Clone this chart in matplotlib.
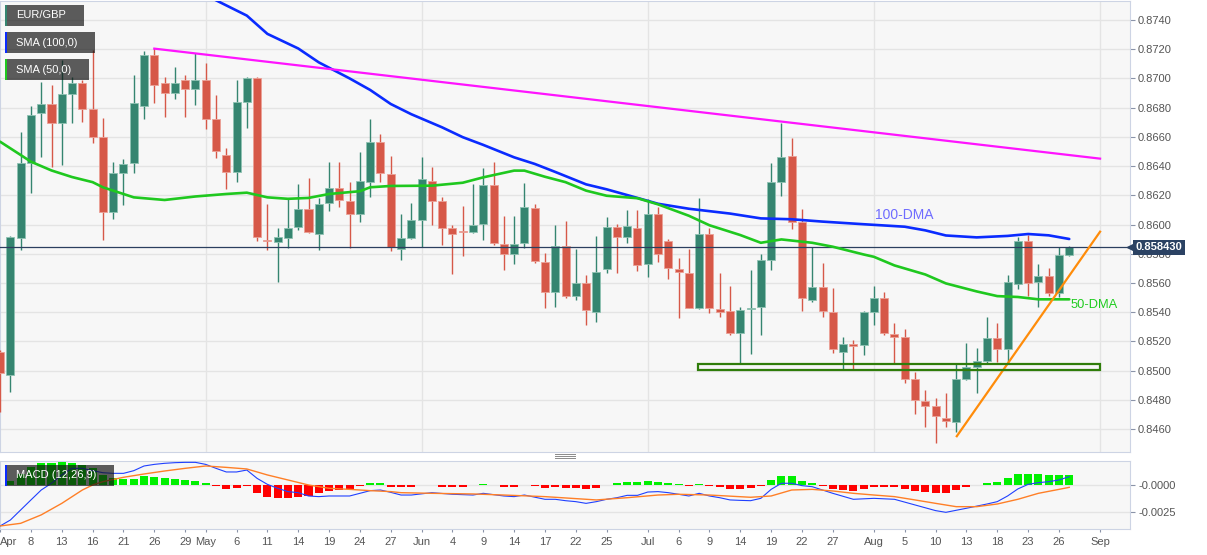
import numpy as np
import pandas as pd
import matplotlib
matplotlib.use('Agg')
import matplotlib.pyplot as plt
import matplotlib.transforms as mtrans
from matplotlib.patches import Rectangle
from matplotlib.lines import Line2D

plt.rcParams['font.family'] = ['Liberation Sans', 'DejaVu Sans']

# ---------------- data ----------------
holidays = ['2021-04-02', '2021-04-05']
all_days = [d for d in pd.bdate_range('2021-04-01', '2021-09-10')
            if d.strftime('%Y-%m-%d') not in holidays]
n_candles = 105
dates = all_days[:n_candles]

opens = [0.85129, 0.84970, 0.85905, 0.86419, 0.86762, 0.86825, 0.86697, 0.86892, 0.86971, 0.86789,
         0.86601, 0.86088, 0.86355, 0.86419, 0.86812, 0.87161, 0.86971, 0.86903, 0.86990, 0.86926,
         0.86990, 0.86723, 0.86476, 0.86362, 0.86842, 0.87006, 0.85896, 0.85882, 0.85905, 0.85985,
         0.86104, 0.85935, 0.86149, 0.86252, 0.86161, 0.86072, 0.86289, 0.86563, 0.86346, 0.85832,
         0.85910, 0.86031, 0.86300, 0.86163, 0.85974, 0.85958, 0.85951, 0.86003, 0.86271, 0.85866,
         0.85798, 0.85875, 0.86115, 0.85745, 0.85536, 0.85853, 0.85512, 0.85597, 0.85403, 0.85695,
         0.85985, 0.85912, 0.85978, 0.85729, 0.86072, 0.85889, 0.85693, 0.85670, 0.85426, 0.85935,
         0.85421, 0.85410, 0.85259, 0.85421, 0.85433, 0.85757, 0.86293, 0.86469, 0.86019, 0.85483,
         0.85574, 0.85403, 0.85130, 0.85179, 0.85175, 0.85399, 0.85494, 0.85250, 0.85227, 0.84942,
         0.84793, 0.84757, 0.84679, 0.84649, 0.84940, 0.85026, 0.85065, 0.85220, 0.85150, 0.85592,
         0.85889, 0.85608, 0.85647, 0.85533, 0.85791]
highs = [0.85140, 0.85920, 0.86636, 0.86812, 0.86978, 0.86956, 0.87127, 0.87013, 0.86990, 0.87195,
         0.86727, 0.86430, 0.86447, 0.87024, 0.87188, 0.87207, 0.87013, 0.87081, 0.87024, 0.87173,
         0.87108, 0.86887, 0.86522, 0.86990, 0.87010, 0.87010, 0.86140, 0.85974, 0.86173, 0.86277,
         0.86320, 0.86180, 0.86430, 0.86430, 0.86293, 0.86499, 0.86721, 0.86618, 0.86469, 0.86070,
         0.86145, 0.86460, 0.86392, 0.86190, 0.86000, 0.86129, 0.86275, 0.86385, 0.86426, 0.86058,
         0.86058, 0.86286, 0.86138, 0.85803, 0.86000, 0.86024, 0.85830, 0.85654, 0.85921, 0.86049,
         0.86003, 0.86099, 0.86099, 0.86173, 0.86118, 0.85899, 0.85768, 0.85830, 0.86184, 0.85974,
         0.85666, 0.85579, 0.85437, 0.85688, 0.85798, 0.86419, 0.86697, 0.86590, 0.86104, 0.85844,
         0.85734, 0.85563, 0.85231, 0.85209, 0.85410, 0.85581, 0.85536, 0.85327, 0.85282, 0.84992,
         0.84866, 0.84810, 0.84844, 0.85050, 0.85186, 0.85156, 0.85368, 0.85327, 0.85654, 0.85912,
         0.85928, 0.85727, 0.85700, 0.85844, 0.85853]
lows = [0.84719, 0.84855, 0.85825, 0.86214, 0.86464, 0.86396, 0.86408, 0.86693, 0.86704, 0.86556,
        0.85894, 0.86036, 0.86134, 0.86351, 0.86721, 0.86830, 0.86738, 0.86858, 0.86738, 0.86819,
        0.86652, 0.86458, 0.86241, 0.86293, 0.86659, 0.85889, 0.85825, 0.85608, 0.85837, 0.85962,
        0.85940, 0.85825, 0.86095, 0.86122, 0.85837, 0.86019, 0.86190, 0.86293, 0.85820, 0.85757,
        0.85900, 0.85848, 0.86000, 0.85860, 0.85661, 0.85784, 0.85940, 0.85894, 0.85860, 0.85688,
        0.85729, 0.85837, 0.85734, 0.85426, 0.85433, 0.85494, 0.85483, 0.85312, 0.85334, 0.85670,
        0.85666, 0.85875, 0.85684, 0.85638, 0.85745, 0.85625, 0.85357, 0.85426, 0.85420, 0.85396,
        0.85368, 0.85243, 0.85044, 0.85113, 0.85243, 0.85688, 0.86195, 0.85967, 0.85410, 0.85472,
        0.85364, 0.85118, 0.85008, 0.85008, 0.85106, 0.85312, 0.85243, 0.85053, 0.84912, 0.84700,
        0.84615, 0.84505, 0.84611, 0.84581, 0.84935, 0.84844, 0.85053, 0.85060, 0.85060, 0.85556,
        0.85510, 0.85437, 0.85510, 0.85501, 0.85784]
closes = [0.84981, 0.85912, 0.86419, 0.86750, 0.86825, 0.86697, 0.86892, 0.86971, 0.86789, 0.86601,
          0.86088, 0.86355, 0.86414, 0.86834, 0.87161, 0.86956, 0.86903, 0.86971, 0.86930, 0.86990,
          0.86723, 0.86503, 0.86362, 0.86837, 0.87006, 0.85912, 0.85887, 0.85912, 0.85978, 0.86104,
          0.85951, 0.86138, 0.86252, 0.86168, 0.86072, 0.86298, 0.86563, 0.86351, 0.85844, 0.85910,
          0.86031, 0.86310, 0.86163, 0.85978, 0.85933, 0.85951, 0.85997, 0.86271, 0.85871, 0.85798,
          0.85866, 0.86118, 0.85752, 0.85536, 0.85853, 0.85510, 0.85597, 0.85414, 0.85677, 0.85985,
          0.85916, 0.85990, 0.85723, 0.86072, 0.85798, 0.85700, 0.85673, 0.85426, 0.85935, 0.85426,
          0.85403, 0.85259, 0.85414, 0.85432, 0.85757, 0.86293, 0.86460, 0.86019, 0.85494, 0.85574,
          0.85410, 0.85150, 0.85179, 0.85168, 0.85399, 0.85494, 0.85255, 0.85231, 0.84946, 0.84798,
          0.84759, 0.84690, 0.84656, 0.84940, 0.85022, 0.85065, 0.85225, 0.85150, 0.85608, 0.85889,
          0.85601, 0.85647, 0.85533, 0.85791, 0.85843]

sma100_idx = [20, 24, 26, 29, 31, 34, 36, 38, 40, 43, 45, 47, 50, 52, 54, 57, 59, 62, 64, 67,
              71, 74, 77, 80, 84, 88, 90, 92, 95, 98, 100, 102, 104]
sma100_val = [0.87570, 0.87430, 0.87305, 0.87205, 0.87110, 0.87000, 0.86921, 0.86825, 0.86755,
              0.86665, 0.86598, 0.86545, 0.86460, 0.86415, 0.86360, 0.86275, 0.86241, 0.86182,
              0.86142, 0.86108, 0.86075, 0.86042, 0.86036, 0.86020, 0.86002, 0.85985, 0.85960,
              0.85925, 0.85912, 0.85922, 0.85935, 0.85926, 0.85901]

sma50_idx = [0, 2, 3, 5, 7, 9, 10, 13, 16, 19, 22, 24, 26, 28, 30, 32, 35, 36, 38, 42, 45, 47,
             50, 51, 53, 55, 57, 59, 62, 64, 67, 69, 72, 74, 76, 79, 81, 84, 85, 87, 90, 92, 95,
             97, 99, 101, 104]
sma50_val = [0.86567, 0.86476, 0.86430, 0.86370, 0.86325, 0.86290, 0.86255, 0.86186, 0.86168,
             0.86192, 0.86209, 0.86218, 0.86186, 0.86176, 0.86182, 0.86209, 0.86228, 0.86255,
             0.86264, 0.86266, 0.86286, 0.86323, 0.86369, 0.86369, 0.86327, 0.86290, 0.86232,
             0.86197, 0.86180, 0.86138, 0.86060, 0.85995, 0.85928, 0.85875, 0.85898, 0.85875,
             0.85848, 0.85795, 0.85779, 0.85720, 0.85658, 0.85597, 0.85542, 0.85510, 0.85504,
             0.85488, 0.85488]

# trend lines and support zone (index, price)
resist_pts = [(15, 0.87204), (107, 0.86451)]
support_pts = [(93.06, 0.84551), (107, 0.85951)]
zone_x = (67.9, 107)
zone_y = (0.85003, 0.85042)

# MACD (values x 1e-4)
hist = [0.3, 3.7, 10, 16.5, 20.3, 20.9, 21.5, 20.9, 18.7, 15.6, 9.4, 6.2, 5.3, 5.9, 8.4, 7.8, 6.6,
        5.6, 4.7, 3.7, 1.5, -0.6, -4.1, -3.1, -0.6, -7.2, -10.9, -12.5, -12.5, -10.9, -10.3, -7.8,
        -5.3, -4.7, -4.1, -0.6, 1.5, 1.5, -2.2, -2.2, -2.2, -0.4, -0.4, -1.5, -1.5, -1.5, -0.4, 1.2,
        -0.4, -1.5, -1.5, -0.4, -0.8, -3.1, -2.2, -3.1, -3.1, -4.1, -2.5, 0.4, 2.2, 3.1, 2.5, 4.1,
        3.1, 2.2, 1.2, -0.5, 1.2, -0.5, -1.5, -3.7, -3.7, -2.8, -0.5, 4.7, 8.7, 8.4, 4.1, 1.9, -0.5,
        -4.1, -4.7, -5.3, -4.1, -2.2, -2.2, -2.2, -4.1, -5.9, -6.9, -7.2, -7.2, -4.7, -1.5, -0.4,
        1.9, 2.8, 6.6, 10, 10.3, 10.3, 9, 9.4, 9.4]
macd_idx = [0, 1, 2, 3, 4, 5, 6, 7, 8, 9, 10, 11, 12, 13, 14, 15, 16, 17, 18, 19, 20, 21, 22, 23,
            24, 25, 26, 27, 28, 29, 30, 31, 32, 33, 34, 35, 36, 37, 38, 39, 40, 42, 44, 46, 47, 49,
            50, 51, 53, 54, 55, 56, 57, 58, 59, 60, 61, 62, 63, 64, 65, 66, 67, 68, 69, 70, 71, 72,
            73, 74, 75, 76, 77, 78, 79, 81, 83, 85, 87, 89, 91, 92, 94, 96, 97, 98, 99, 100, 101,
            102, 103, 104]
macd_val = [-38.4, -32.8, -23.4, -14, -4.7, 1.6, 9.4, 15.6, 15.6, 13.4, 11.5, 10.9, 10.9, 13.4,
            17.8, 19.3, 20.3, 20.9, 21.2, 21.2, 19.3, 15.6, 12.2, 12.2, 14, 6.2, 0.6, -3.1, -6.2,
            -7.2, -10.3, -10.9, -10.3, -10.3, -10.3, -7.8, -5.3, -4.7, -6.9, -9.4, -9.4, -7.2,
            -8.7, -9.4, -7.8, -10.3, -10.9, -9.4, -13.4, -13.4, -14.7, -15.6, -17.2, -15.6, -13.4,
            -11.9, -9.7, -9.7, -6.6, -6.2, -7.2, -8.7, -10.3, -7.8, -10.3, -11.9, -14, -14.4,
            -14.7, -12.5, -4.1, 1.6, 1.6, -0.6, -1.6, -7.8, -13.4, -12.5, -13.4, -18.7, -24,
            -25.6, -21.8, -17.8, -15.6, -10.3, -3.7, 0.6, 2.2, 3.1, 4.7, 7.8]
signal_idx = [0, 2, 4, 6, 8, 9, 10, 12, 14, 16, 18, 20, 22, 24, 26, 28, 30, 32, 34, 36, 38, 39,
              42, 46, 49, 53, 58, 61, 64, 66, 69, 73, 75, 77, 79, 81, 83, 85, 87, 89, 91, 93, 95,
              97, 99, 101, 103, 104]
signal_val = [-38.4, -35.9, -28, -17.2, -4.7, 0, 3.1, 7.2, 10.3, 13.1, 15.6, 17.8, 16.5, 15, 9.4,
              4.7, 0, -3.1, -4.1, -5.3, -6.2, -7.2, -7.8, -8.4, -9.4, -10.9, -14, -11.9, -9.4,
              -8.7, -9.4, -11.5, -10.3, -4.7, -4.1, -5.6, -7.8, -9.4, -10.9, -14, -17.2, -20.3,
              -20.3, -17.8, -13.4, -7.8, -4.1, -2.2]

tick_dates = ['2021-04-01', '2021-04-08', '2021-04-13', '2021-04-16', '2021-04-21', '2021-04-26',
              '2021-04-29', '2021-05-03', '2021-05-06', '2021-05-11', '2021-05-14', '2021-05-19',
              '2021-05-24', '2021-05-27', '2021-06-01', '2021-06-04', '2021-06-09', '2021-06-14',
              '2021-06-17', '2021-06-22', '2021-06-25', '2021-07-01', '2021-07-06', '2021-07-09',
              '2021-07-14', '2021-07-19', '2021-07-22', '2021-07-27', '2021-08-02', '2021-08-05',
              '2021-08-10', '2021-08-13', '2021-08-18', '2021-08-23', '2021-08-26', '2021-09-01']
tick_labels = ['Apr', '8', '13', '16', '21', '26', '29', 'May', '6', '11', '14', '19', '24', '27',
               'Jun', '4', '9', '14', '17', '22', '25', 'Jul', '6', '9', '14', '19', '22', '27',
               'Aug', '5', '10', '13', '18', '23', '26', 'Sep']
month_dates = ['2021-05-03', '2021-06-01', '2021-07-01', '2021-08-02', '2021-09-01']
price_ticks = [0.8460, 0.8480, 0.8500, 0.8520, 0.8540, 0.8560, 0.8580, 0.8600, 0.8620, 0.8640,
               0.8660, 0.8680, 0.8700, 0.8720, 0.8740]

# ---------------- styling constants ----------------
GREEN = '#358570'
RED = '#d65848'
GREEN_E = '#8fc2b2'
RED_E = '#eba096'
BG = '#f7f7f7'
GRID = '#e4e4e4'
SPINE = '#cdd4e4'
TXT = '#555555'

W, H = 1207, 555
fig = plt.figure(figsize=(W / 100, H / 100), dpi=100)
fig.patch.set_facecolor('white')


def fx(px):
    return px / W


def fy(py):
    return 1 - py / H


ax = fig.add_axes([0, fy(451.7), fx(1130), (451.7 - 1) / H])
axm = fig.add_axes([0, fy(529.3), fx(1130), (529.3 - 460.7) / H])

day_pos = {d.strftime('%Y-%m-%d'): i for i, d in enumerate(all_days)}
x = np.arange(n_candles)
O = np.array(opens); Hh = np.array(highs); L = np.array(lows); C = np.array(closes)
up = C >= O
cols = np.where(up, GREEN, RED)
ecols = np.where(up, GREEN_E, RED_E)
XLIM = (-0.01, 109.91)

# ---------------- main panel ----------------
ax.set_facecolor(BG)
ax.vlines(x, L, Hh, colors=cols, lw=1.0, zorder=3)
body_h = np.maximum(np.abs(C - O), 0.00004)
ax.bar(x, body_h, bottom=np.minimum(O, C), width=0.78, color=cols, edgecolor=ecols,
       linewidth=0.6, zorder=4)

ax.plot(sma100_idx, sma100_val, color='#0a2bff', lw=1.9, zorder=6, solid_capstyle='round')
ax.plot(sma50_idx, sma50_val, color='#1fc81f', lw=1.9, zorder=6, solid_capstyle='round')
ax.plot([p[0] for p in resist_pts], [p[1] for p in resist_pts], color='#ff14ff', lw=1.6, zorder=6)
ax.plot([p[0] for p in support_pts], [p[1] for p in support_pts], color='#ff8c0a', lw=1.6, zorder=6)
ax.add_patch(Rectangle((zone_x[0], zone_y[0]), zone_x[1] - zone_x[0], zone_y[1] - zone_y[0],
                       facecolor='none', edgecolor='#2f7d0a', lw=1.6, zorder=6))
ax.axhline(closes[-1], color='#2b3f5f', lw=0.9, zorder=5)

ax.text(85.1, 0.86065, '100-DMA', color='#6f6cff', fontsize=10, va='center', zorder=7)
ax.text(104.1, 0.85449, '50-DMA', color='#1fcc1f', fontsize=9.3, va='center', zorder=7)

ax.set_xlim(*XLIM)
ax.set_ylim(0.84445, 0.87530)
ax.yaxis.tick_right()
ax.set_yticks(price_ticks)
ax.set_yticklabels([f'{t:.4f}' for t in price_ticks])
ax.tick_params(axis='y', length=3.6, width=0.8, color='#8a93a8', labelsize=8,
               labelcolor=TXT, pad=2.2)
ax.set_xticks([day_pos[d] for d in month_dates])
ax.tick_params(axis='x', length=0, labelbottom=False)
ax.grid(True, color=GRID, lw=1)
ax.set_axisbelow(True)
for s in ax.spines.values():
    s.set_color(SPINE)

# current price label
blend = mtrans.blended_transform_factory(ax.transAxes, ax.transData)
ax.plot([1.0], [closes[-1]], marker='<', ms=5, color='#2b4263', transform=blend,
        clip_on=False, zorder=20)
ax.text(1135.8 / 1130, closes[-1], f'{closes[-1]:.6f}', transform=blend, ha='left', va='center',
        fontsize=8, fontweight='bold', color='white', clip_on=False, zorder=21,
        bbox=dict(boxstyle='square,pad=0.25', fc='#2b4263', ec='none'))

# ---------------- MACD panel ----------------
axm.set_facecolor(BG)
hv = np.array(hist) * 1e-4
axm.bar(x, hv, width=0.78, color=np.where(hv >= 0, '#00f000', '#ff0000'), zorder=3)
axm.plot(macd_idx, np.array(macd_val) * 1e-4, color='#2040ff', lw=0.8, zorder=4)
axm.plot(signal_idx, np.array(signal_val) * 1e-4, color='#ff7f27', lw=1.0, zorder=4)
axm.set_xlim(*XLIM)
axm.set_ylim(-41.5e-4, 22.75e-4)
axm.yaxis.tick_right()
axm.set_yticks([0, -0.0025])
axm.set_yticklabels(['-0.0000', '-0.0025'])
axm.tick_params(axis='y', length=3.6, width=0.8, color='#8a93a8', labelsize=8,
                labelcolor=TXT, pad=2.2)
axm.set_xticks([day_pos[d] for d in tick_dates])
axm.set_xticklabels(tick_labels)
axm.set_xticks([day_pos[d] for d in month_dates], minor=True)
axm.tick_params(axis='x', which='major', length=2.2, width=0.8, color='#8a93a8',
                labelsize=8, labelcolor=TXT, pad=3)
axm.tick_params(axis='x', which='minor', length=0)
axm.grid(True, which='minor', axis='x', color=GRID, lw=1)
axm.grid(True, which='major', axis='y', color=GRID, lw=1)
axm.grid(False, which='major', axis='x')
axm.set_axisbelow(True)
for s in axm.spines.values():
    s.set_color(SPINE)
axm.get_xticklabels()[0].set_ha('left')

# ---------------- overlays: legend tags, panel handle ----------------
def tag(x0, y0, x1, y1, stripe, text):
    fig.add_artist(Rectangle((fx(x0), fy(y1)), (x1 - x0) / W, (y1 - y0) / H,
                             transform=fig.transFigure, facecolor='#0f0f0f', alpha=0.67,
                             edgecolor='none', zorder=10))
    fig.add_artist(Rectangle((fx(x0), fy(y1)), 2.2 / W, (y1 - y0) / H,
                             transform=fig.transFigure, facecolor=stripe,
                             edgecolor='none', zorder=11))
    fig.text(fx(16), fy((y0 + y1) / 2), text, color='white', fontsize=8, va='center',
             ha='left', zorder=12)


tag(5, 5, 84, 25.7, GREEN, 'EUR/GBP')
tag(5, 32.3, 95, 52.7, '#0a2bff', 'SMA (100,0)')
tag(5, 59.3, 89, 80, '#1fc81f', 'SMA (50,0)')
tag(5, 465, 114, 485.7, '#0a2bff', 'MACD (12,26,9)')

for yy in (454.3, 456.0, 457.7):
    fig.add_artist(Line2D([fx(555), fx(575)], [fy(yy), fy(yy)], transform=fig.transFigure,
                          color='#8a8a8a', lw=0.7))

fig.savefig('out.png', dpi=100, facecolor='white')
